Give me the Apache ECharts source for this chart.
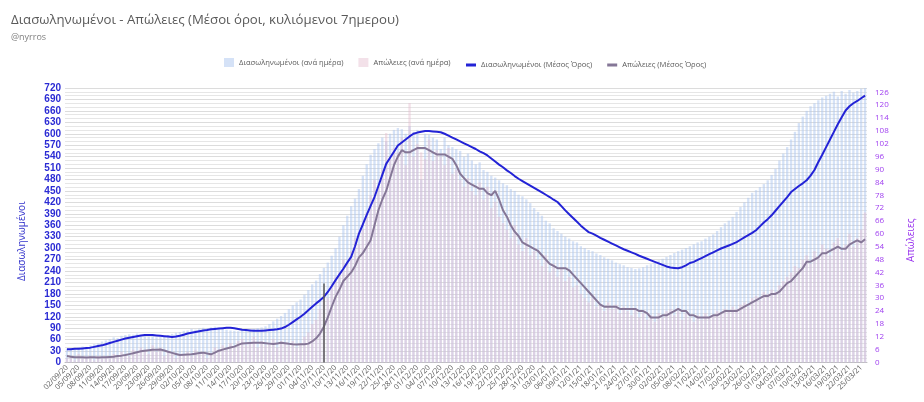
<!DOCTYPE html>
<html>
<head>
<meta charset="utf-8">
<script src="https://cdn.jsdelivr.net/npm/echarts@6/dist/echarts.min.js"></script>
<style>html,body{margin:0;padding:0;background:#fff}#c{width:924px;height:402px}</style>
</head>
<body>
<div id="c"></div>
<script>
// ---- categories: daily dates 02/09/20 .. 26/03/21 ----
const startDate = [2020, 8, 2];
const dayCount = 206;
function buildDates(s, n) {
  const out = [];
  for (let i = 0; i < n; i++) {
    const d = new Date(Date.UTC(s[0], s[1], s[2] + i));
    const dd = String(d.getUTCDate()).padStart(2, '0');
    const mm = String(d.getUTCMonth() + 1).padStart(2, '0');
    const yy = String(d.getUTCFullYear()).slice(2);
    out.push(dd + '/' + mm + '/' + yy);
  }
  return out;
}
const categories = buildDates(startDate, dayCount);

// ---- Διασωληνωμένοι (ανά ημέρα) ----
const intubatedDaily = [
  36,38,37,40,42,41,45,48,50,55,
  58,61,66,64,70,72,74,73,76,72,
  70,68,71,66,67,69,72,75,78,80,
  83,84,88,86,89,91,90,92,94,91,
  88,86,84,83,82,85,84,86,88,90,
  92,95,101,108,115,122,130,140,150,158,
  165,178,190,205,215,232,248,262,280,300,
  330,360,385,410,430,455,490,520,545,560,
  575,590,580,600,610,615,612,600,620,605,
  610,480,600,598,590,585,560,590,570,565,
  560,555,540,548,530,520,525,505,500,490,
  485,478,470,465,455,450,440,436,428,418,
  405,395,385,372,365,352,345,338,330,325,
  318,315,305,300,295,292,286,282,276,272,
  268,262,258,255,250,248,245,247,250,255,
  258,262,268,272,277,282,287,292,296,300,
  305,310,315,318,325,330,336,345,355,365,
  372,382,395,408,420,432,445,452,460,468,
  478,492,508,530,548,565,585,605,628,645,
  660,672,680,688,695,700,705,710,698,712,
  705,715,708,712,718,724
];

// ---- Απώλειες (ανά ημέρα) ----
const deathsDaily = [
  2,3,1,4,2,2,3,1,3,2,
  3,2,4,3,5,4,3,6,5,7,
  6,4,8,5,7,3,5,4,2,3,
  4,5,3,6,4,5,2,4,7,6,
  8,6,9,7,10,11,8,9,12,7,
  10,8,9,11,7,10,9,8,10,7,
  9,12,14,18,20,25,32,30,36,40,
  42,48,46,52,58,55,62,70,78,85,
  82,90,107,95,100,98,105,92,121,96,
  102,98,95,104,94,99,96,92,100,88,
  90,85,82,86,80,78,84,76,82,72,
  75,68,65,62,58,64,55,52,58,50,
  52,48,45,50,42,46,40,44,38,40,
  35,36,32,30,28,30,26,27,24,28,
  25,27,23,26,24,22,25,21,23,20,
  22,19,23,21,24,25,22,24,20,23,
  21,19,22,20,23,21,22,24,23,25,
  24,26,25,27,28,26,30,31,29,33,
  32,34,33,36,38,40,42,45,44,48,
  50,46,52,49,55,53,50,56,58,52,
  55,60,54,58,62,70
];

// ---- Διασωληνωμένοι (Μέσος Όρος) ----
const intubatedAvg = [
  35,35,36,36,37,38,39,41,43,45,
  48,51,54,57,60,63,65,67,69,71,
  72,72,72,71,70,69,68,67,68,70,
  73,76,78,80,82,84,85,87,88,89,
  90,91,91,90,88,86,85,84,83,83,
  83,84,85,86,87,89,93,99,106,113,
  120,128,137,146,155,163,172,185,200,216,
  231,246,262,277,305,338,362,387,411,434,
  463,492,521,537,553,569,577,585,593,600,
  603,605,607,607,606,605,604,600,595,590,
  585,580,575,570,565,560,554,549,543,535,
  527,519,512,504,497,489,482,476,470,464,
  458,452,446,440,434,427,421,410,399,389,
  379,369,359,350,342,338,333,327,322,317,
  312,307,302,297,293,289,285,280,276,272,
  268,264,260,256,252,249,248,247,250,255,
  261,264,269,274,279,284,289,294,299,303,
  307,311,316,322,328,334,340,347,357,367,
  376,386,398,410,422,434,447,455,463,470,
  478,490,505,526,545,565,585,605,625,643,
  661,672,680,686,693,700
];

// ---- Απώλειες (Μέσος Όρος) ----
const deathsAvg = [
  3.0,2.7,2.4,2.5,2.4,2.3,2.4,2.4,2.3,2.4,
  2.5,2.6,2.7,3.0,3.2,3.5,3.9,4.3,4.8,5.2,
  5.5,5.7,5.9,6.0,6.1,5.6,5.0,4.5,4.0,3.5,
  3.6,3.7,3.8,4.1,4.4,4.6,4.2,3.8,4.6,5.5,
  6.0,6.5,7.0,7.4,8.2,8.9,9.0,9.1,9.2,9.2,
  9.2,9.0,8.8,8.6,8.9,9.2,9.0,8.7,8.5,8.4,
  8.5,8.5,8.8,9.8,11.3,13.5,16.7,21,26,30.6,
  34,38,40,42,45,49,51,54,57,64,
  71,76,80,86,92,96,99,98,98,99,
  100,100,100,99,98,97,97,97,96,95,
  92,88,86,84,83,82,81,81,79,78,
  80,76,71,68,64,61,59,56,55,54,
  53,52,50,48,46,45,44,44,44,43,
  41,39,37,35,33,31,29,27,26,26,
  26,26,25,25,25,25,25,24,24,23,
  21,21,21,22,22,23,24,25,24,24,
  22,22,21,21,21,21,22,22,23,24,
  24,24,24,25,26,27,28,29,30,31,
  31,32,32,33,35,37,38,40,42,44,
  47,47,48,49,51,51,52,53,54,53,
  53,55,56,57,56,57.5
];

// annotation (vertical marker)
const markerDate = '07/11/20';
const markerValue = 207;

const seriesNames = [
  'Διασωληνωμένοι (ανά ημέρα)',
  'Απώλειες (ανά ημέρα)',
  'Διασωληνωμένοι (Μέσος Όρος)',
  'Απώλειες (Μέσος Όρος)'
];

const chart = echarts.init(document.getElementById('c'), null, {renderer: 'canvas'});
const FONT = '"Open Sans", "Noto Sans", sans-serif';
const legendText = {fontSize: 7.6, color: '#595959', fontFamily: FONT};
chart.setOption({
  animation: false,
  backgroundColor: '#ffffff',
  textStyle: {fontFamily: FONT},
  title: {
    text: 'Διασωληνωμένοι - Απώλειες (Μέσοι όροι, κυλιόμενοι 7ημερου)',
    subtext: '@nyrros',
    left: 6, top: 9, itemGap: 6,
    textStyle: {fontSize: 13.2, fontWeight: 'normal', color: '#595959', fontFamily: FONT},
    subtextStyle: {fontSize: 9, color: '#7f7f7f', fontFamily: FONT}
  },
  legend: [
    {
      top: 53, left: 219,
      itemWidth: 10, itemHeight: 9, itemGap: 15,
      textStyle: legendText,
      data: [
        {name: seriesNames[0], icon: 'rect'},
        {name: seriesNames[1], icon: 'rect'}
      ]
    },
    {
      top: 56, left: 461,
      itemWidth: 10, itemHeight: 3, itemGap: 15,
      textStyle: legendText,
      data: [
        {name: seriesNames[2], icon: 'rect'},
        {name: seriesNames[3], icon: 'rect'}
      ]
    }
  ],
  grid: {left: 65, right: 56, top: 88, bottom: 39.5, containLabel: false},
  xAxis: {
    type: 'category',
    data: categories,
    boundaryGap: true,
    axisLine: {show: true, lineStyle: {color: '#bfbfbf'}},
    axisTick: {show: false},
    axisLabel: {interval: 2, rotate: 45, fontSize: 7.5, color: '#595959', margin: 4, fontFamily: FONT},
    splitLine: {show: false}
  },
  yAxis: [
    {
      type: 'value', min: 0, max: 720, interval: 30,
      name: 'Διασωληνωμένοι', nameLocation: 'middle', nameGap: 38, nameRotate: 90,
      nameTextStyle: {color: '#3333cc', fontSize: 10, fontFamily: FONT, padding: [0, 0, 0, -32]},
      axisLine: {show: false}, axisTick: {show: false},
      axisLabel: {color: '#2b2bd4', fontSize: 10, fontWeight: 'bold', margin: 4, fontFamily: '"Liberation Sans", sans-serif'},
      splitLine: {show: true, lineStyle: {color: '#dcdcdc', width: 1}},
      minorTick: {show: false, splitNumber: 3},
      minorSplitLine: {show: true, lineStyle: {color: '#e6e6e6', width: 1}}
    },
    {
      type: 'value', min: 0, max: 128, interval: 6,
      name: 'Απώλειες', nameLocation: 'middle', nameGap: 39, nameRotate: 90,
      nameTextStyle: {color: '#9933ee', fontSize: 10, fontFamily: FONT, padding: [0, 0, 0, -30]},
      axisLine: {show: false}, axisTick: {show: false},
      axisLabel: {color: '#a040f0', fontSize: 8, margin: 8, showMaxLabel: false, fontFamily: FONT},
      splitLine: {show: false}
    }
  ],
  series: [
    {
      name: seriesNames[0], type: 'bar', yAxisIndex: 0,
      data: intubatedDaily, barWidth: '60%', barGap: '-100%',
      itemStyle: {color: 'rgba(172,198,240,0.5)'},
      markLine: {
        silent: true, symbol: 'none', label: {show: false},
        lineStyle: {color: '#595959', width: 1.5, type: 'solid'},
        data: [[{coord: [markerDate, 0]}, {coord: [markerDate, markerValue]}]]
      }
    },
    {
      name: seriesNames[1], type: 'bar', yAxisIndex: 1,
      data: deathsDaily, barWidth: '60%', barGap: '-100%',
      itemStyle: {color: 'rgba(228,188,206,0.45)'}
    },
    {
      name: seriesNames[2], type: 'line', yAxisIndex: 0,
      data: intubatedAvg, showSymbol: false, symbol: 'none',
      lineStyle: {color: '#2323d6', width: 2}, itemStyle: {color: '#2323d6'}
    },
    {
      name: seriesNames[3], type: 'line', yAxisIndex: 1,
      data: deathsAvg, showSymbol: false, symbol: 'none',
      lineStyle: {color: '#857797', width: 2}, itemStyle: {color: '#857797'}
    }
  ]
});
</script>
</body>
</html>
